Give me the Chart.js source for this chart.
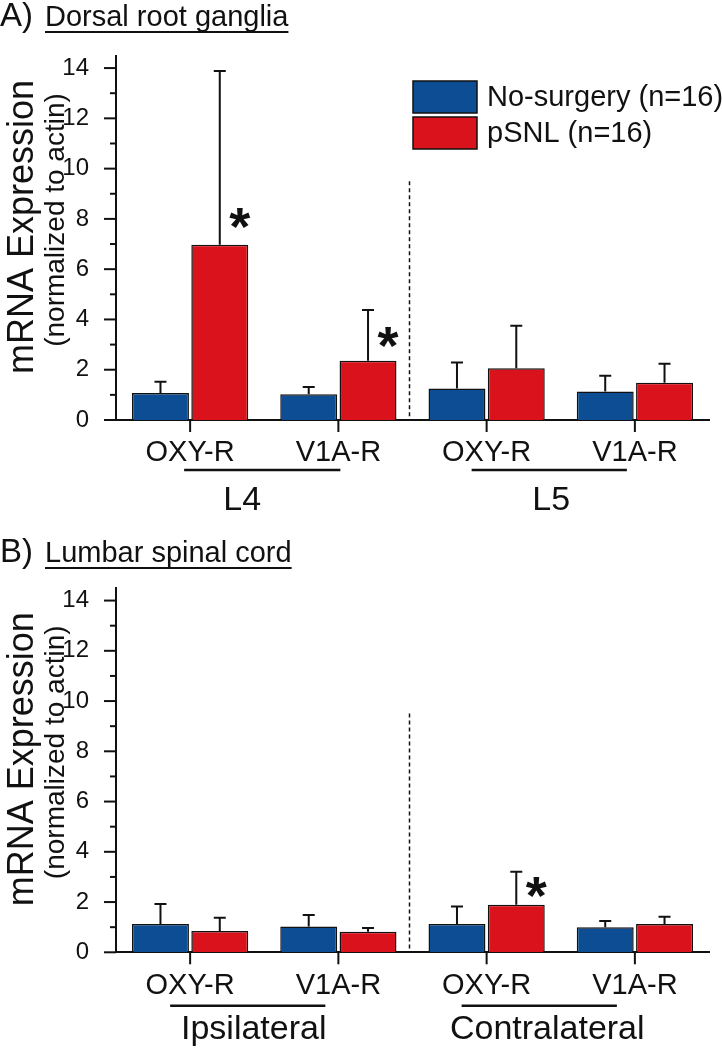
<!DOCTYPE html>
<html>
<head>
<meta charset="utf-8">
<script src="https://cdn.jsdelivr.net/npm/chart.js@4.4.1/dist/chart.umd.min.js"></script>
<style>
  body { margin: 0; background: #fff; }
  #wrap { position: relative; width: 722px; height: 1050px; }
  canvas { position: absolute; left: 0; }
</style>
</head>
<body>
<div id="wrap">
  <canvas id="drgChart" width="722" height="525" style="top:0"></canvas>
  <canvas id="spinalChart" width="722" height="525" style="top:525px"></canvas>
</div>
<script>
// mRNA expression (normalized to actin), mean and upper SD
const categories = ['OXY-R', 'V1A-R', 'OXY-R', 'V1A-R'];
const drgGroups = ['L4', 'L5'];
const spinalGroups = ['Ipsilateral', 'Contralateral'];
const seriesNames = ['No-surgery (n=16)', 'pSNL (n=16)'];
const yTicks = [0, 2, 4, 6, 8, 10, 12, 14];

const drgNoSurgery = [1.07, 1.02, 1.25, 1.13];
const drgNoSurgerySd = [0.45, 0.29, 1.04, 0.63];
const drgPsnl = [6.97, 2.36, 2.06, 1.48];
const drgPsnlSd = [6.91, 2.02, 1.69, 0.76];

const spinalNoSurgery = [1.13, 1.03, 1.13, 1.0];
const spinalNoSurgerySd = [0.79, 0.45, 0.69, 0.25];
const spinalPsnl = [0.85, 0.82, 1.89, 1.13];
const spinalPsnlSd = [0.53, 0.15, 1.32, 0.28];

// significance marks: category index, series index, height in axis units
const drgStars = [{ cat: 0, ds: 1, value: 8.0 }, { cat: 1, ds: 1, value: 3.3 }];
const spinalStars = [{ cat: 2, ds: 1, value: 2.58 }];

const INK = '#111';
const BLUE = '#0c4d94';
const RED = '#d9121b';
const FONT = "'Liberation Sans', Arial, Helvetica, sans-serif";

const panelPlugin = {
  id: 'panel',
  afterDatasetsDraw(chart, args, o) {
    const ctx = chart.ctx, x = chart.scales.x, y = chart.scales.y, area = chart.chartArea;
    ctx.save();
    ctx.strokeStyle = INK;
    ctx.fillStyle = INK;
    ctx.lineWidth = 2;

    // error bars (upper only)
    chart.data.datasets.forEach((ds, di) => {
      chart.getDatasetMeta(di).data.forEach((bar, i) => {
        const top = y.getPixelForValue(ds.data[i] + o.errors[di][i]);
        ctx.beginPath();
        ctx.moveTo(bar.x, bar.y); ctx.lineTo(bar.x, top);
        ctx.moveTo(bar.x - 6, top); ctx.lineTo(bar.x + 6, top);
        ctx.stroke();
      });
    });

    // y tick marks, long on labelled values, short in between
    for (let v = 0; v <= 14; v++) {
      const py = y.getPixelForValue(v);
      ctx.beginPath();
      ctx.moveTo(area.left - (v % 2 ? 6 : 12), py); ctx.lineTo(area.left, py);
      ctx.stroke();
    }
    // x tick marks
    categories.forEach((c, i) => {
      const px = x.getPixelForValue(i);
      ctx.beginPath();
      ctx.moveTo(px, area.bottom); ctx.lineTo(px, area.bottom + 12);
      ctx.stroke();
    });

    // dashed divider
    const xm = (x.getPixelForValue(1) + x.getPixelForValue(2)) / 2 - 3;
    ctx.save();
    ctx.lineWidth = 1.5;
    ctx.setLineDash([4, 3]);
    ctx.beginPath();
    ctx.moveTo(xm, y.getPixelForValue(o.dashTop)); ctx.lineTo(xm, area.bottom);
    ctx.stroke();
    ctx.restore();

    // group lines and labels
    ctx.lineWidth = 2.5;
    ctx.textAlign = 'center';
    ctx.textBaseline = 'alphabetic';
    ctx.font = '34px ' + FONT;
    o.groups.forEach((g, gi) => {
      const off = o.lineOffset[gi];
      const x0 = x.getPixelForValue(gi * 2) + off[0];
      const x1 = x.getPixelForValue(gi * 2 + 1) + off[1];
      const ly = area.bottom + o.lineGap;
      ctx.beginPath(); ctx.moveTo(x0, ly); ctx.lineTo(x1, ly); ctx.stroke();
      ctx.fillText(g, (x0 + x1) / 2 + o.labelShift[gi], area.bottom + o.labelBase);
    });

    // asterisks
    ctx.font = 'bold 54px ' + FONT;
    const m = ctx.measureText('*');
    o.stars.forEach(s => {
      const bar = chart.getDatasetMeta(s.ds).data[s.cat];
      const py = y.getPixelForValue(s.value) + (m.actualBoundingBoxAscent - m.actualBoundingBoxDescent) / 2;
      ctx.fillText('*', bar.x + 20, py);
    });

    // panel title
    ctx.textAlign = 'left';
    ctx.font = '33px ' + FONT;
    ctx.fillText(o.prefix, 0, o.titleBase);
    ctx.font = '29px ' + FONT;
    ctx.fillText(o.title, 45, o.titleBase);
    const tw = ctx.measureText(o.title).width;
    ctx.lineWidth = 2;
    ctx.beginPath();
    ctx.moveTo(45, o.titleBase + 6); ctx.lineTo(45 + tw, o.titleBase + 6);
    ctx.stroke();

    // y axis titles
    const cy = area.bottom - 193;
    ctx.save();
    ctx.translate(33, cy);
    ctx.rotate(-Math.PI / 2);
    ctx.textAlign = 'center';
    ctx.font = '36px ' + FONT;
    ctx.fillText('mRNA Expression', 0, 0);
    ctx.restore();
    ctx.save();
    ctx.translate(64, cy - 7);
    ctx.rotate(-Math.PI / 2);
    ctx.textAlign = 'center';
    ctx.font = '28px ' + FONT;
    ctx.fillText('(normalized to actin)', 0, 0);
    ctx.restore();

    // legend
    if (o.legend) {
      ctx.font = '29px ' + FONT;
      ctx.textBaseline = 'middle';
      ctx.lineWidth = 1.5;
      chart.data.datasets.forEach((ds, di) => {
        const by = 81 + di * 36;
        ctx.fillStyle = ds.backgroundColor;
        ctx.fillRect(413, by, 64, 32);
        ctx.strokeRect(413, by, 64, 32);
        ctx.fillStyle = INK;
        ctx.fillText(ds.label, 487, by + 17);
      });
    }
    ctx.restore();
  }
};

function makePanel(id, cfg) {
  return new Chart(document.getElementById(id), {
    type: 'bar',
    data: {
      labels: categories,
      datasets: [
        { label: seriesNames[0], data: cfg.noSurgery, backgroundColor: BLUE },
        { label: seriesNames[1], data: cfg.psnl, backgroundColor: RED }
      ]
    },
    options: {
      responsive: false,
      animation: false,
      devicePixelRatio: 1,
      datasets: {
        bar: {
          borderColor: INK,
          borderWidth: 1.5,
          categoryPercentage: 0.8,
          barPercentage: 0.96
        }
      },
      layout: { padding: { left: 0, right: 13, top: cfg.top, bottom: 0 } },
      plugins: {
        legend: { display: false },
        title: { display: false },
        tooltip: { enabled: false },
        panel: {
          errors: [cfg.noSurgerySd, cfg.psnlSd],
          groups: cfg.groups,
          stars: cfg.stars,
          dashTop: 9.5,
          lineOffset: cfg.lineOffset,
          lineGap: cfg.lineGap,
          labelBase: cfg.labelBase,
          labelShift: cfg.labelShift,
          prefix: cfg.prefix,
          title: cfg.title,
          titleBase: cfg.titleBase,
          legend: cfg.legend
        }
      },
      scales: {
        x: {
          grid: { display: false },
          border: { display: true, color: INK, width: 2 },
          ticks: { color: INK, font: { family: FONT, size: 29 }, padding: 8, maxRotation: 0, autoSkip: false },
          afterFit: s => { s.height = cfg.xHeight; }
        },
        y: {
          min: 0,
          max: 14.5,
          grid: { display: false },
          border: { display: true, color: INK, width: 2 },
          afterBuildTicks: s => { s.ticks = yTicks.map(v => ({ value: v })); },
          ticks: {
            padding: 19,
            color: INK,
            font: { family: FONT, size: 24 }
          },
          afterFit: s => { s.width = 116; }
        }
      }
    },
    plugins: [panelPlugin]
  });
}

makePanel('drgChart', {
  noSurgery: drgNoSurgery, noSurgerySd: drgNoSurgerySd,
  psnl: drgPsnl, psnlSd: drgPsnlSd,
  groups: drgGroups, stars: drgStars,
  top: 55.5, xHeight: 105,
  lineOffset: [[-6, 2], [-15, -8]], lineGap: 50, labelBase: 90, labelShift: [-20, 2],
  prefix: 'A)', title: 'Dorsal root ganglia', titleBase: 26,
  legend: true
});

makePanel('spinalChart', {
  noSurgery: spinalNoSurgery, noSurgerySd: spinalNoSurgerySd,
  psnl: spinalPsnl, psnlSd: spinalPsnlSd,
  groups: spinalGroups, stars: spinalStars,
  top: 63, xHeight: 97.7,
  lineOffset: [[-20, -13], [-25, -18]], lineGap: 53.5, labelBase: 87, labelShift: [6, 8],
  prefix: 'B)', title: 'Lumbar spinal cord', titleBase: 37,
  legend: false
});
</script>
</body>
</html>
